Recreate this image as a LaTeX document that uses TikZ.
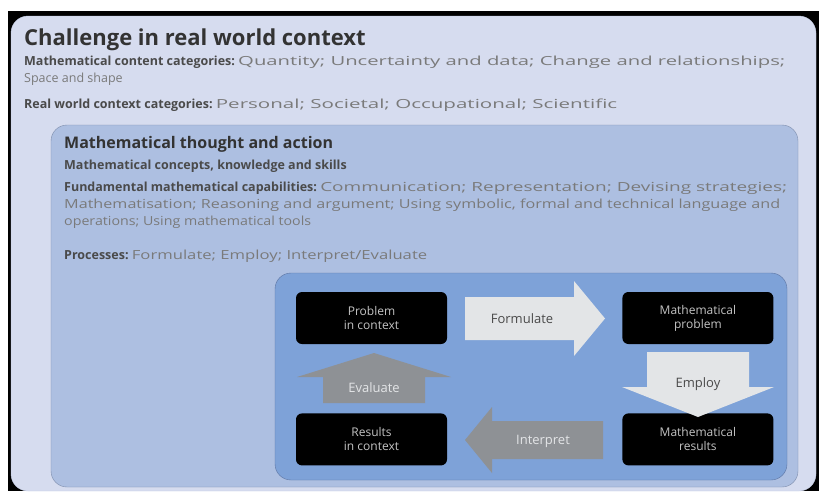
\documentclass[tikz,border=0pt]{standalone}
\usepackage{fontspec}
\setmainfont{Open Sans}
\usetikzlibrary{positioning}

\definecolor{outerfill}{HTML}{D6DCEF}
\definecolor{outerline}{HTML}{C4CCE4}
\definecolor{innerfill}{HTML}{ADBFE1}
\definecolor{innerline}{HTML}{7D8CAB}
\definecolor{cyclefill}{HTML}{7EA2D8}
\definecolor{cycleline}{HTML}{5C74A2}
\definecolor{headcol}{HTML}{333333}
\definecolor{labcol}{HTML}{4A4A4A}
\definecolor{bodycol}{HTML}{7A7A7A}
\definecolor{proctext}{HTML}{C4C4C4}
\definecolor{lightarrow}{HTML}{E3E5E7}
\definecolor{darkarrow}{HTML}{8E9195}

% bold label at the start of a line
\newcommand{\lab}[1]{{\color{labcol}\bfseries #1}}
% label, then the rest of the line widened to end at #1pt
\newsavebox{\labbox}
\newlength{\restwd}
\newcommand{\fitline}[3]{%
  \sbox{\labbox}{\lab{#2}\ }%
  \setlength{\restwd}{\dimexpr #1pt-\wd\labbox\relax}%
  \usebox{\labbox}\resizebox{\restwd}{\height}{#3}}
% a plain line widened to #1pt
\newcommand{\wideline}[2]{\resizebox{#1pt}{\height}{#2}}

\begin{document}
\begin{tikzpicture}[x=1pt, y=-1pt,
    headline/.style={anchor=base west, inner sep=0, text=headcol, font=\fontsize{22}{24}\selectfont\bfseries},
    bodyline/.style={anchor=base west, inner sep=0, text=bodycol, font=\fontsize{12.5}{15}\selectfont},
    procbox/.style={fill=black, rounded corners=6pt, minimum width=151pt, minimum height=52pt,
      inner sep=0, text=proctext, align=center, font=\fontsize{12}{14}\selectfont},
    arrowtext/.style={inner sep=0, font=\fontsize{13}{15}\selectfont}]
  \useasboundingbox (0,0) rectangle (819,491);
  \fill[white] (0,0) rectangle (819,491);
  \fill[black] (8,11) rectangle (819,491);

  % the three nested panels
  \draw[fill=outerfill, draw=outerline, rounded corners=17pt] (11,16) rectangle (816,491);
  \draw[fill=innerfill, draw=innerline, rounded corners=16pt] (51,125) rectangle (798,487);
  \draw[fill=cyclefill, draw=cycleline, rounded corners=16pt] (275,273) rectangle (787,480);

  % outer panel text
  \node[headline] (challenge) at (24,45) {Challenge in real world context};
  \node[bodyline] (content) at (24,65)
    {\fitline{761}{Mathematical content categories:}{Quantity; Uncertainty and data; Change and relationships;}};
  \node[bodyline] (content2) at (24,82) {Space and shape};
  \node[bodyline] (context) at (24,108)
    {\fitline{593}{Real world context categories:}{Personal; Societal; Occupational; Scientific}};

  % inner panel text
  \node[headline, font=\fontsize{16}{18}\selectfont\bfseries] (thought) at (64,148) {Mathematical thought and action};
  \node[bodyline] (concepts) at (64,169) {\lab{Mathematical concepts, knowledge and skills}};
  \node[bodyline] (capab) at (64,191)
    {\fitline{723}{Fundamental mathematical capabilities:}{Communication; Representation; Devising strategies;}};
  \node[bodyline] (capab2) at (64,208)
    {\wideline{716}{Mathematisation; Reasoning and argument; Using symbolic, formal and technical language and}};
  \node[bodyline] (capab3) at (64,225) {\wideline{247}{operations; Using mathematical tools}};
  \node[bodyline] (processes) at (64,259)
    {\fitline{363}{Processes:}{Formulate; Employ; Interpret/Evaluate}};

  % modelling cycle
  \node[procbox] (problem) at (371.5,318) {Problem\\in context};
  \node[procbox, right=175pt of problem] (mathproblem) {Mathematical\\problem};
  \node[procbox, below=69pt of mathproblem] (mathresults) {Mathematical\\results};
  \node[procbox, below=69pt of problem] (results) {Results\\in context};

  \fill[lightarrow] (465,297) -- (574,297) -- (574,281) -- (605,318.5) -- (574,356)
    -- (574,340) -- (465,340) -- cycle;
  \fill[lightarrow] (647,352) -- (749,352) -- (749,387) -- (774,387) -- (698,417)
    -- (622,387) -- (647,387) -- cycle;
  \fill[darkarrow] (603,421) -- (492,421) -- (492,407) -- (465,440) -- (492,473)
    -- (492,459) -- (603,459) -- cycle;
  \fill[darkarrow] (323,403) -- (323,377) -- (297,377) -- (374,353) -- (451,377)
    -- (425,377) -- (425,403) -- cycle;

  \node[arrowtext, text=labcol] (formulate) at (522,319) {Formulate};
  \node[arrowtext, text=labcol] (employ) at (698,384) {Employ};
  \node[arrowtext, text=lightarrow] (interpret) at (543,441) {Interpret};
  \node[arrowtext, text=lightarrow] (evaluate) at (374,388) {Evaluate};
\end{tikzpicture}
\end{document}
